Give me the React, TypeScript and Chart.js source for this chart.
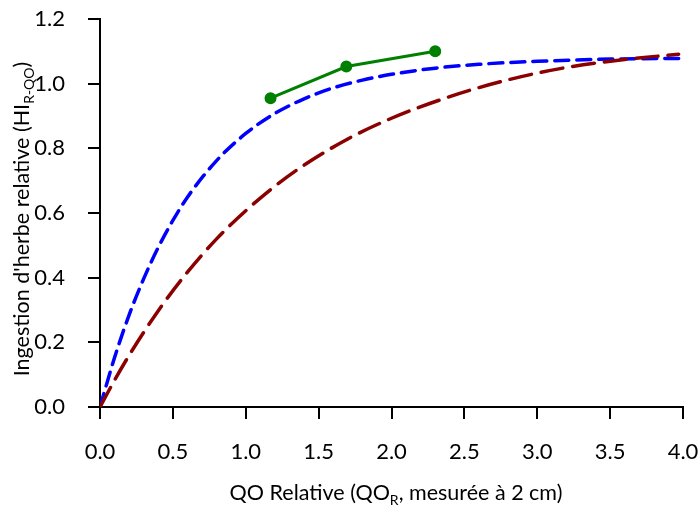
import React, { useEffect, useRef } from "react";
import { Chart, registerables } from "chart.js";

Chart.register(...registerables);

// Blue dashed curve
const blueX = [0, 0.1, 0.2, 0.3, 0.4, 0.5, 0.6, 0.8, 1.0, 1.2, 1.4, 1.6, 1.8, 2.0, 2.3, 2.6, 3.0, 3.5, 3.97];
const blueY = [0, 0.153, 0.285, 0.397, 0.494, 0.577, 0.649, 0.762, 0.846, 0.908, 0.953, 0.987, 1.011, 1.029, 1.048, 1.06, 1.069, 1.076, 1.078];

// Dark red long-dashed curve
const redX = [0, 0.1, 0.2, 0.4, 0.6, 0.8, 1.0, 1.2, 1.4, 1.7, 2.0, 2.4, 2.8, 3.2, 3.6, 3.97];
const redY = [0, 0.083, 0.16, 0.298, 0.417, 0.52, 0.607, 0.683, 0.748, 0.829, 0.893, 0.96, 1.012, 1.05, 1.075, 1.091];

// Green observed points
const greenX = [1.17, 1.69, 2.3];
const greenY = [0.955, 1.053, 1.1];

const xTitleParts = ["QO Relative (QO", "R", ", mesurée à 2 cm)"];
const yTitleParts = ["Ingestion d'herbe relative (HI", "R-QO", ")"];

const FONT = "Lato, 'Open Sans', sans-serif";

const toPts = (xs: number[], ys: number[]) => xs.map((x, i) => ({ x, y: ys[i] }));

function drawSubTitle(ctx: CanvasRenderingContext2D, parts: string[], size: number, subSize: number, subShift: number) {
  const main = `${size}px ${FONT}`;
  const sub = `${subSize}px ${FONT}`;
  ctx.font = main;
  const w0 = ctx.measureText(parts[0]).width;
  const w2 = ctx.measureText(parts[2]).width;
  ctx.font = sub;
  const w1 = ctx.measureText(parts[1]).width;
  const total = w0 + w1 + w2;
  let x = -total / 2;
  ctx.textAlign = "left";
  ctx.textBaseline = "alphabetic";
  ctx.font = main;
  ctx.fillText(parts[0], x, 0);
  x += w0;
  ctx.font = sub;
  ctx.fillText(parts[1], x, subShift);
  x += w1;
  ctx.font = main;
  ctx.fillText(parts[2], x, 0);
}

const titlePlugin = {
  id: "subTitles",
  afterDraw(chart: any) {
    const ctx: CanvasRenderingContext2D = chart.ctx;
    ctx.save();
    ctx.fillStyle = "#000";
    ctx.translate(396, 500);
    drawSubTitle(ctx, xTitleParts, 21.5, 14, 5);
    ctx.restore();

    ctx.save();
    ctx.fillStyle = "#000";
    ctx.translate(29, 219);
    ctx.rotate(-Math.PI / 2);
    drawSubTitle(ctx, yTitleParts, 21.5, 14, 5);
    ctx.restore();
  },
};

const zeroPad = (s: any) => {
  s.paddingTop = 0;
  s.paddingBottom = 0;
  s.paddingLeft = 0;
  s.paddingRight = 0;
};

export default function App() {
  const ref = useRef<HTMLCanvasElement>(null);
  useEffect(() => {
    if (!ref.current) return;
    const chart = new Chart(ref.current, {
      type: "line",
      data: {
        datasets: [
          {
            data: toPts(redX, redY),
            borderColor: "#8b0000",
            borderWidth: 3.5,
            borderDash: [22, 10],
            borderCapStyle: "round",
            pointRadius: 0,
            tension: 0.4,
            cubicInterpolationMode: "monotone",
            fill: false,
          },
          {
            data: toPts(blueX, blueY),
            borderColor: "#0000ff",
            borderWidth: 3.5,
            borderDash: [14, 8],
            borderCapStyle: "round",
            pointRadius: 0,
            tension: 0.4,
            cubicInterpolationMode: "monotone",
            fill: false,
          },
          {
            data: toPts(greenX, greenY),
            borderColor: "#008000",
            backgroundColor: "#008000",
            borderWidth: 3,
            pointRadius: 4.5,
            pointBackgroundColor: "#008000",
            pointBorderColor: "#008000",
            tension: 0,
            fill: false,
          },
        ],
      },
      options: {
        responsive: false,
        animation: false,
        devicePixelRatio: 1,
        layout: { padding: { left: 0, right: 17, top: 19, bottom: 0 } },
        plugins: { legend: { display: false }, tooltip: { enabled: false } },
        scales: {
          x: {
            type: "linear",
            min: 0,
            max: 4,
            afterFit: (s: any) => {
              s.height = 99;
              zeroPad(s);
            },
            ticks: {
              stepSize: 0.5,
              color: "#000",
              padding: 20,
              font: { family: FONT, size: 22 },
              maxRotation: 0,
              callback: (v: any) => Number(v).toFixed(1),
            },
            grid: { drawOnChartArea: false, drawTicks: true, tickLength: 12, color: "#000", lineWidth: 2 },
            border: { color: "#000", width: 2 },
          },
          y: {
            type: "linear",
            min: 0,
            max: 1.2,
            afterFit: (s: any) => {
              s.width = 100;
              zeroPad(s);
            },
            ticks: {
              stepSize: 0.2,
              color: "#000",
              padding: 23,
              font: { family: FONT, size: 22 },
              callback: (v: any) => Number(v).toFixed(1),
            },
            grid: { drawOnChartArea: false, drawTicks: true, tickLength: 12, color: "#000", lineWidth: 2 },
            border: { color: "#000", width: 2 },
          },
        },
      },
      plugins: [titlePlugin],
    });
    return () => chart.destroy();
  }, []);
  return (
    <div style={{ position: "fixed", left: 0, top: 0, width: 700, height: 506, background: "#fff" }}>
      <canvas ref={ref} width={700} height={506} style={{ display: "block" }} />
    </div>
  );
}
